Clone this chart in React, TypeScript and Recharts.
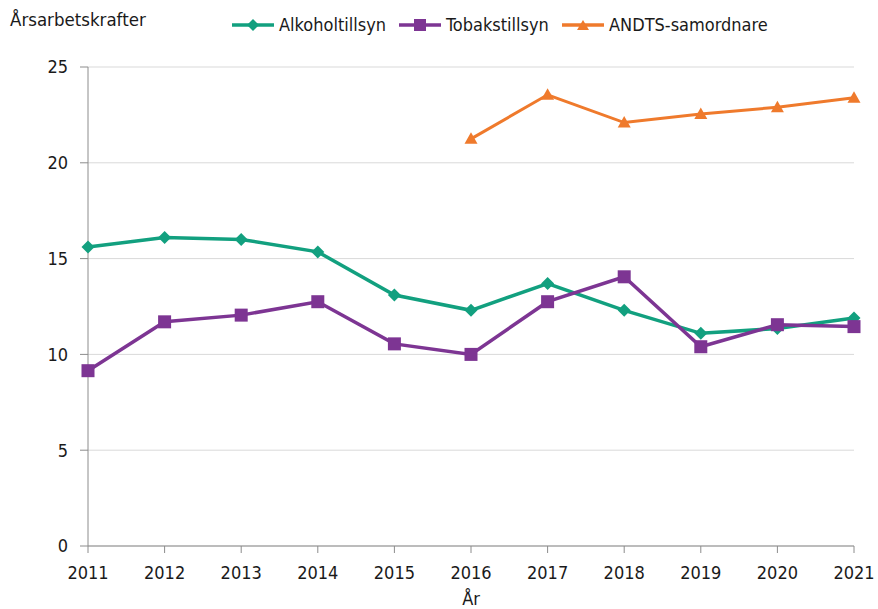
import { CartesianGrid, Line, LineChart, XAxis, YAxis } from 'recharts'

const YEARS = ['2011', '2012', '2013', '2014', '2015', '2016', '2017', '2018', '2019', '2020', '2021']
const ALKOHOL = [15.6, 16.1, 16.0, 15.35, 13.1, 12.3, 13.7, 12.3, 11.1, 11.35, 11.9]
const TOBAK = [9.15, 11.7, 12.05, 12.75, 10.55, 10.0, 12.75, 14.05, 10.4, 11.55, 11.45]
const ANDTS = [null, null, null, null, null, 21.25, 23.55, 22.1, 22.55, 22.9, 23.4]
const Y_TICKS = [0, 5, 10, 15, 20, 25]

const TEAL = '#12a07f'
const PURPLE = '#7d3593'
const ORANGE = '#ef7a2c'
const TEXT = '#1a1a1a'
const FONT = '"DejaVu Sans Condensed", "DejaVu Sans", sans-serif'

const data = YEARS.map((year, i) => ({
  year,
  alkohol: ALKOHOL[i],
  tobak: TOBAK[i],
  andts: ANDTS[i],
}))

type DotProps = { cx?: number; cy?: number; value?: number | null; index?: number }

function Diamond({ cx, cy, value, index }: DotProps) {
  if (value == null || cx == null || cy == null) return <g key={`d${index}`} />
  const r = 6.5
  return (
    <path
      key={`d${index}`}
      d={`M${cx},${cy - r}L${cx + r},${cy}L${cx},${cy + r}L${cx - r},${cy}Z`}
      fill={TEAL}
    />
  )
}

function Square({ cx, cy, value, index }: DotProps) {
  if (value == null || cx == null || cy == null) return <g key={`s${index}`} />
  const r = 6.5
  return <rect key={`s${index}`} x={cx - r} y={cy - r} width={r * 2} height={r * 2} fill={PURPLE} />
}

function Triangle({ cx, cy, value, index }: DotProps) {
  if (value == null || cx == null || cy == null) return <g key={`t${index}`} />
  return (
    <path
      key={`t${index}`}
      d={`M${cx},${cy - 6.5}L${cx + 6.5},${cy + 5}L${cx - 6.5},${cy + 5}Z`}
      fill={ORANGE}
    />
  )
}

type Marker = 'diamond' | 'square' | 'triangle'

function LegendItem({ color, label, marker, left }: { color: string; label: string; marker: Marker; left: number }) {
  return (
    <div style={{ position: 'absolute', left, top: 14, display: 'flex', alignItems: 'center' }}>
      <svg width={44} height={16}>
        <line x1={0} x2={42} y1={8} y2={8} stroke={color} strokeWidth={3.5} />
        {marker === 'diamond' && <path d="M21,2L27,8L21,14L15,8Z" fill={color} />}
        {marker === 'square' && <rect x={15} y={2} width={12} height={12} fill={color} />}
        {marker === 'triangle' && <path d="M21,3L27,13L15,13Z" fill={color} />}
      </svg>
      <span style={{ marginLeft: 3 }}>{label}</span>
    </div>
  )
}

export default function App() {
  return (
    <div style={{ position: 'relative', width: 878, height: 609, background: '#fff', fontFamily: FONT, fontSize: 18, color: TEXT }}>
      <style>{'body{margin:0}'}</style>
      <div style={{ position: 'absolute', left: 10, top: 9, fontSize: 18.5 }}>Årsarbetskrafter</div>
      <LegendItem color={TEAL} label="Alkoholtillsyn" marker="diamond" left={232} />
      <LegendItem color={PURPLE} label="Tobakstillsyn" marker="square" left={399} />
      <LegendItem color={ORANGE} label="ANDTS-samordnare" marker="triangle" left={562} />
      <LineChart width={878} height={609} data={data} margin={{ top: 67, right: 24, left: 0, bottom: 0 }}>
        <CartesianGrid stroke="#d9d9d9" vertical={false} />
        <XAxis
          dataKey="year"
          height={63}
          stroke="#8c8c8c"
          tickSize={7}
          tickMargin={13}
          tick={{ fill: TEXT, fontSize: 18, fontFamily: FONT }}
          interval={0}
          label={{ value: 'År', position: 'insideBottom', offset: 4, fill: TEXT, fontSize: 18, fontFamily: FONT }}
        />
        <YAxis
          width={88}
          domain={[0, 25]}
          ticks={Y_TICKS}
          stroke="#8c8c8c"
          tickSize={8}
          tickMargin={12}
          tick={{ fill: TEXT, fontSize: 18, fontFamily: FONT }}
        />
        <Line dataKey="alkohol" stroke={TEAL} strokeWidth={3.5} dot={Diamond} activeDot={false} isAnimationActive={false} />
        <Line dataKey="tobak" stroke={PURPLE} strokeWidth={3.5} dot={Square} activeDot={false} isAnimationActive={false} />
        <Line dataKey="andts" stroke={ORANGE} strokeWidth={3} dot={Triangle} activeDot={false} isAnimationActive={false} />
      </LineChart>
    </div>
  )
}
